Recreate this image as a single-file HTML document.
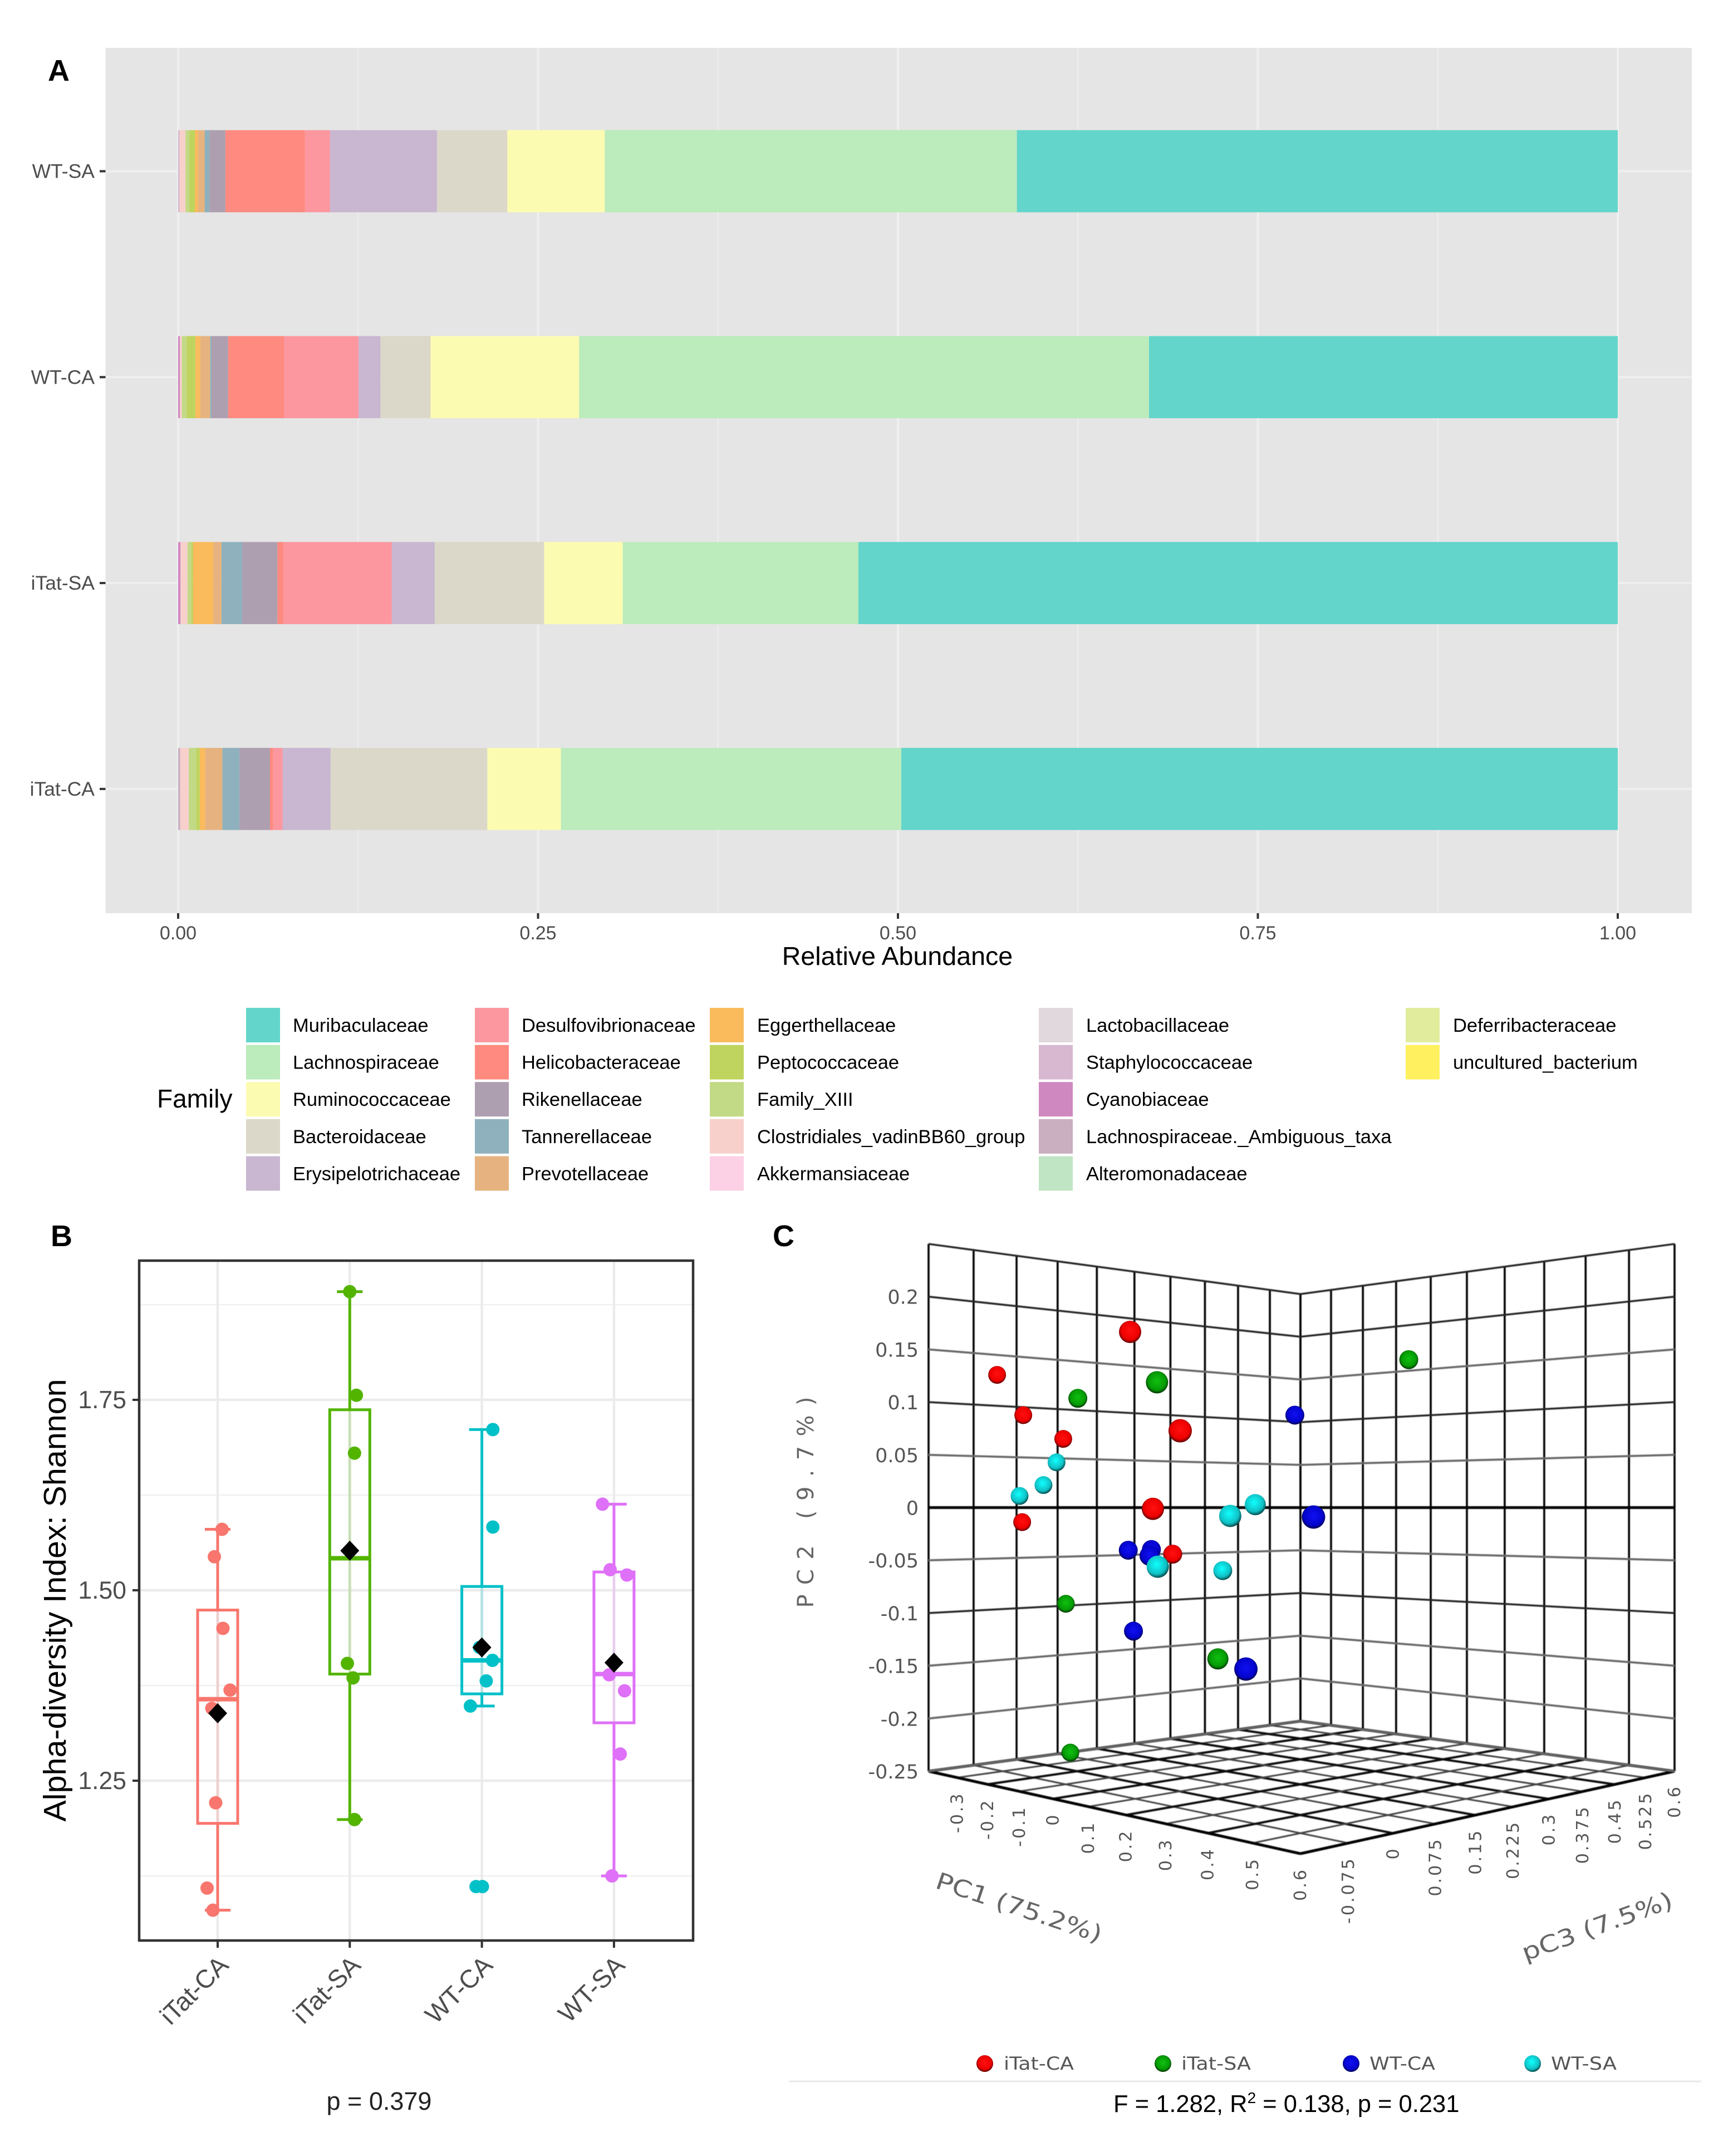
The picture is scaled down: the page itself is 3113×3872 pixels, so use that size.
<!DOCTYPE html>
<html>
<head>
<meta charset="utf-8">
<title>Microbiome family abundance, alpha diversity and PCoA</title>
<style>
html,body{margin:0;padding:0;background:#fff;width:3113px;height:3872px;overflow:hidden}
svg{display:block}
text{font-family:"Liberation Sans",sans-serif}
.dj{font-family:"DejaVu Sans",sans-serif}
</style>
</head>
<body>
<svg id="chart" xmlns="http://www.w3.org/2000/svg" width="3113" height="3872" viewBox="0 0 3113 3872">
<defs>
<radialGradient id="sph-red" cx="50%" cy="45%" r="55%"><stop offset="0" stop-color="#ff1010"/><stop offset=".72" stop-color="#ee0000"/><stop offset="1" stop-color="#5a0000"/></radialGradient>
<radialGradient id="sph-green" cx="50%" cy="45%" r="55%"><stop offset="0" stop-color="#10c010"/><stop offset=".72" stop-color="#059a05"/><stop offset="1" stop-color="#033403"/></radialGradient>
<radialGradient id="sph-blue" cx="50%" cy="45%" r="55%"><stop offset="0" stop-color="#1010f0"/><stop offset=".72" stop-color="#0404d0"/><stop offset="1" stop-color="#020250"/></radialGradient>
<radialGradient id="sph-cyan" cx="45%" cy="40%" r="60%"><stop offset="0" stop-color="#10ffff"/><stop offset=".72" stop-color="#10c0c4"/><stop offset="1" stop-color="#044a4c"/></radialGradient>
<filter id="soft" x="-2%" y="-2%" width="104%" height="104%"><feGaussianBlur stdDeviation="0.9"/></filter>
</defs>
<g id="panel-a"></g>
<g id="panel-b"></g>
<g id="panel-c"></g>
</svg>
<script>
// ---------- Panel A data ----------
const barCategories = ['WT-SA','WT-CA','iTat-SA','iTat-CA'];
const familyNames = ['Muribaculaceae','Lachnospiraceae','Ruminococcaceae','Bacteroidaceae','Erysipelotrichaceae','Desulfovibrionaceae','Helicobacteraceae','Rikenellaceae','Tannerellaceae','Prevotellaceae','Eggerthellaceae','Peptococcaceae','Family_XIII','Clostridiales_vadinBB60_group','Akkermansiaceae','Lactobacillaceae','Staphylococcaceae','Cyanobiaceae','Lachnospiraceae._Ambiguous_taxa','Alteromonadaceae','Deferribacteraceae','uncultured_bacterium'];
const familyColors = ['#63d5ca','#bcebbc','#fcfbb2','#dbd8c9','#c9b7d1','#fc979f','#ff8a80','#ae9fb0','#8fb1bd','#e6b380','#fabb5c','#bfd45e','#c2d985','#f7d0cc','#fcd1e5','#e0d8dc','#d7b8d0','#d089c0','#c9afc0','#c0e5c4','#e1ec9c','#fff060'];
const abundanceWTSA   = [.4174,.2863,.0677,.0488,.0743,.0174,.0553,.0111,.0033,.0046,.0022,.0038,.0027,.0041,0,0,.001,0,0,0,0,0];
const abundanceWTCA   = [.3256,.3959,.1032,.0348,.0152,.0518,.0388,.0115,.001,.0068,.0035,.006,.0033,.0014,0,0,0,.0012,0,0,0,0];
const abundanceITatSA = [.5275,.1637,.0546,.076,.0298,.0752,.0043,.0244,.0144,.0057,.0141,.0011,.0027,.0049,0,0,0,.0016,0,0,0,0];
const abundanceITatCA = [.4977,.2364,.0512,.1088,.0334,.0065,.0022,.0212,.0119,.0119,.0038,.0024,.0052,.006,0,0,0,0,.0014,0,0,0];
const abundanceXTicks = ['0.00','0.25','0.50','0.75','1.00'];

// ---------- Panel B data ----------
const boxGroups = ['iTat-CA','iTat-SA','WT-CA','WT-SA'];
const boxColors = ['#f8766d','#53b400','#00c0c8','#df70f8'];
const shannonTicks = ['1.25','1.50','1.75'];
const shannonMinorTicks = [1.125,1.375,1.625,1.875];
const boxQ1 = [1.194,1.390,1.364,1.326];
const boxMedian = [1.357,1.542,1.408,1.390];
const boxQ3 = [1.474,1.737,1.505,1.524];
const whiskerLow = [1.080,1.199,1.348,1.125];
const whiskerHigh = [1.580,1.892,1.711,1.613];
const boxMeans = [1.3385,1.552,1.425,1.405];
const samplesITatCA = [1.580,1.544,1.450,1.369,1.345,1.221,1.109,1.080];
const jitterITatCA  = [.033,-.025,.04,.094,-.044,-.015,-.08,-.036];
const samplesITatSA = [1.892,1.756,1.680,1.404,1.385,1.199];
const jitterITatSA  = [0,.05,.036,-.018,.025,.036];
const samplesWTCA   = [1.711,1.583,1.425,1.408,1.381,1.348,1.111,1.111];
const jitterWTCA    = [.083,.083,-.018,.08,.033,-.087,-.044,.004];
const samplesWTSA   = [1.613,1.527,1.520,1.389,1.368,1.285,1.125];
const jitterWTSA    = [-.087,-.029,.098,-.036,.08,.047,-.015];

// ---------- Panel C data (projected view coordinates: horizontal view position, PC2 at left wall scale, sphere size) ----------
const pc2TickLabels = ['0.2','0.15','0.1','0.05','0','-0.05','-0.1','-0.15','-0.2','-0.25'];
const pc1TickLabels = ['-0.3','-0.2','-0.1','0','0.1','0.2','0.3','0.4','0.5','0.6'];
const pc3TickLabels = ['-0.075','0','0.075','0.15','0.225','0.3','0.375','0.45','0.525','0.6'];
const blueViewX = [-.015,.035,-.461,-.399,-.404,-.447,-.146];
const blueViewY = [.088,-.0085,-.0399,-.0392,-.0451,-.1165,-.1524];
const blueSize  = [17,21,17,17,18,17,21];
const redViewX  = [-.456,-.812,-.742,-.635,-.322,-.395,-.745,-.342];
const redViewY  = [.1668,.1261,.088,.0655,.0732,-.0007,-.0133,-.0436];
const redSize   = [20,16,16,16,21,20,16,17];
const greenViewX = [-.384,-.596,.290,-.628,-.221,-.616];
const greenViewY = [.1191,.1039,.1405,-.0906,-.1428,-.2315];
const greenSize  = [20,17,17,16,19,16];
const cyanViewX = [-.653,-.688,-.752,-.121,-.188,-.382,-.208];
const cyanViewY = [.0433,.0218,.0115,.0033,-.0074,-.0555,-.0592];
const cyanSize  = [16,16,16,19,20,20,17];

const NS = 'http://www.w3.org/2000/svg';
function mk(tag, attrs, parent){
  const el = document.createElementNS(NS, tag);
  for (const k in attrs) el.setAttribute(k, attrs[k]);
  parent.appendChild(el);
  return el;
}

// ================= PANEL A =================
const pa = document.getElementById('panel-a');
const xA = v => 320 + v*2586;
const yA = i => 307.5 + i*369.8;
const barH = 147.5;
let e;
e = mk('rect',{x:189.5,y:86,width:2849.5,height:1554,fill:'#e5e5e5'},pa);


for (let k=0;k<9;k++){
  const v = k*0.125;
  e = mk('line',{x1:xA(v),x2:xA(v),y1:86,y2:1640,stroke:'#efefef','stroke-width':k%2?2:4},pa);
  
  
}
barCategories.forEach((c,i)=>{
  e = mk('line',{x1:189.5,x2:3039,y1:yA(i),y2:yA(i),stroke:'#efefef','stroke-width':4},pa);
  
  
});
[abundanceWTSA,abundanceWTCA,abundanceITatSA,abundanceITatCA].forEach((vals,i)=>{
  let pos = vals.reduce((s,v)=>s+v,0);
  vals.forEach((v,f)=>{
    if (v<=0) return;
    const start = pos - v;
    const r = mk('rect',{x:xA(start),y:yA(i)-barH/2,width:xA(pos)-xA(start),height:barH,fill:familyColors[f]},pa);
    
    
    pos = start;
  });
  const lab = mk('text',{x:170,y:yA(i)+12,'text-anchor':'end','font-size':35.5,fill:'#4d4d4d'},pa);
  lab.textContent = barCategories[i];
  
  
  const t = mk('line',{x1:179,x2:189.5,y1:yA(i),y2:yA(i),stroke:'#333','stroke-width':4},pa);
  
  
});
abundanceXTicks.forEach(t=>{
  const v = parseFloat(t);
  const m = mk('line',{x1:xA(v),x2:xA(v),y1:1640,y2:1650,stroke:'#333','stroke-width':4},pa);
  
  
  const l = mk('text',{x:xA(v),y:1687,'text-anchor':'middle','font-size':34,fill:'#4d4d4d'},pa);
  l.textContent = t;
  
  
});
e = mk('text',{x:1612,y:1733,'text-anchor':'middle','font-size':46.6,fill:'#000'},pa);
e.textContent = 'Relative Abundance';


e = mk('text',{x:86,y:145,'font-size':54,'font-weight':'bold',fill:'#000'},pa);
e.textContent = 'A';


e = mk('text',{x:282,y:1989,'font-size':46,fill:'#000'},pa);
e.textContent = 'Family';


const legendSwatchX = [442,853,1275,1866,2525];
const legendTextX = [526,937,1360,1951,2610];
familyNames.forEach((n,i)=>{
  const col = Math.floor(i/5), row = i%5;
  const y = 1810 + row*66.6;
  const s = mk('rect',{x:legendSwatchX[col],y:y,width:61,height:62,fill:familyColors[i]},pa);
  
  
  const t = mk('text',{x:legendTextX[col],y:y+43,'font-size':34.5,fill:'#000'},pa);
  t.textContent = n;
  
  
});

// ================= PANEL B =================
const pb = document.getElementById('panel-b');
const xB = i => 391 + i*237.3;
const yB = v => 2856 - (v-1.5)*1368;
const bLeft=250,bRight=1245,bTop=2264,bBottom=3485;
shannonMinorTicks.forEach(v=>{
  const l = mk('line',{x1:bLeft,x2:bRight,y1:yB(v),y2:yB(v),stroke:'#f0f0f0','stroke-width':2.5},pb);
  
  
});
shannonTicks.forEach(t=>{
  const v = parseFloat(t);
  const l = mk('line',{x1:bLeft,x2:bRight,y1:yB(v),y2:yB(v),stroke:'#ebebeb','stroke-width':4.5},pb);
  
  
  const m = mk('line',{x1:238,x2:bLeft,y1:yB(v),y2:yB(v),stroke:'#333','stroke-width':4},pb);
  
  
  const tx = mk('text',{x:227,y:yB(v)+15,'text-anchor':'end','font-size':44.5,fill:'#4d4d4d'},pb);
  tx.textContent = t;
  
  
});
const sampleSets = [samplesITatCA,samplesITatSA,samplesWTCA,samplesWTSA];
const jitterSets = [jitterITatCA,jitterITatSA,jitterWTCA,jitterWTSA];
boxGroups.forEach((g,i)=>{
  const x = xB(i), col = boxColors[i];
  let n;
  n = mk('line',{x1:x,x2:x,y1:bTop,y2:bBottom,stroke:'#ebebeb','stroke-width':4.5},pb);
  
  
  n = mk('line',{x1:x,x2:x,y1:yB(boxQ3[i]),y2:yB(boxQ1[i]),stroke:col,'stroke-width':5,opacity:.22},pb);
  
  
  n = mk('line',{x1:x,x2:x,y1:yB(whiskerHigh[i]),y2:yB(boxQ3[i]),stroke:col,'stroke-width':5},pb);
  
  
  n = mk('line',{x1:x,x2:x,y1:yB(boxQ1[i]),y2:yB(whiskerLow[i]),stroke:col,'stroke-width':5},pb);
  
  
  n = mk('line',{x1:x-23,x2:x+23,y1:yB(whiskerHigh[i]),y2:yB(whiskerHigh[i]),stroke:col,'stroke-width':5},pb);
  
  
  n = mk('line',{x1:x-23,x2:x+23,y1:yB(whiskerLow[i]),y2:yB(whiskerLow[i]),stroke:col,'stroke-width':5},pb);
  
  
  n = mk('rect',{x:x-36,y:yB(boxQ3[i]),width:72,height:yB(boxQ1[i])-yB(boxQ3[i]),fill:'none',stroke:col,'stroke-width':5},pb);
  
  
  n = mk('line',{x1:x-36,x2:x+36,y1:yB(boxMedian[i]),y2:yB(boxMedian[i]),stroke:col,'stroke-width':8},pb);
  
  
  sampleSets[i].forEach((v,k)=>{
    const c = mk('circle',{cx:x+jitterSets[i][k]*237.3,cy:yB(v),r:12,fill:col},pb);
    
    
  });
  const my = yB(boxMeans[i]);
  n = mk('polygon',{points:`${x-17},${my} ${x},${my-18} ${x+17},${my} ${x},${my+18}`,fill:'#000'},pb);
  
  
  n = mk('line',{x1:x,x2:x,y1:bBottom,y2:3498,stroke:'#333','stroke-width':4},pb);
  
  
  n = mk('text',{x:x+22,y:3532,'text-anchor':'end','font-size':46,fill:'#4d4d4d',transform:`rotate(-45 ${x+22} 3532)`},pb);
  n.textContent = g;
  
  
});
e = mk('rect',{x:bLeft,y:bTop,width:bRight-bLeft,height:bBottom-bTop,fill:'none',stroke:'#333','stroke-width':4.5},pb);


e = mk('text',{x:118,y:2874,'text-anchor':'middle','font-size':57,fill:'#000',textLength:795,lengthAdjust:'spacingAndGlyphs',transform:'rotate(-90 118 2874)'},pb);
e.textContent = 'Alpha-diversity Index: Shannon';


e = mk('text',{x:681,y:3789,'text-anchor':'middle','font-size':45,fill:'#222'},pb);
e.textContent = 'p = 0.379';


e = mk('text',{x:91,y:2238,'font-size':54,'font-weight':'bold',fill:'#000'},pb);
e.textContent = 'B';



// ================= PANEL C =================
const pc = document.getElementById('panel-c');
const pcGrid = mk('g',{filter:'url(#soft)'},pc);


// floor corners: left, front, right, back
const qx=[1668,2336,3008,2336], qy=[3181,3329,3181,3091];
const dx1=qx[1]-qx[2],dx2=qx[3]-qx[2],sx=qx[0]-qx[1]+qx[2]-qx[3];
const dy1=qy[1]-qy[2],dy2=qy[3]-qy[2],sy=qy[0]-qy[1]+qy[2]-qy[3];
const den=dx1*dy2-dx2*dy1;
const hg=(sx*dy2-dx2*sy)/den, hh=(dx1*sy-sx*dy1)/den;
const ha=qx[1]-qx[0]+hg*qx[1], hb=qx[3]-qx[0]+hh*qx[3], hc=qx[0];
const hd=qy[1]-qy[0]+hg*qy[1], he=qy[3]-qy[0]+hh*qy[3], hf=qy[0];
function floorPt(u,v){const w=hg*u+hh*v+1;return {x:(ha*u+hb*v+hc)/w,y:(hd*u+he*v+hf)/w};}
const uPc1 = p => (p+.4)/1.0;
const vPc3 = p => (p+.15)/.75;
const WALL_ZERO_Y = 2707.5;
function wallPt(u,v,pc2){const f=floorPt(u,v);return {x:f.x,y:WALL_ZERO_Y-pc2*(f.y-WALL_ZERO_Y)/.25};}
const GRID_N = 10;
for(let k=0;k<=GRID_N;k++){
  const t=k/GRID_N, dark=k%2===0;
  const a=floorPt(t,0),b=floorPt(t,1),c=floorPt(0,t),d=floorPt(1,t);
  let n=mk('line',{x1:a.x,y1:a.y,x2:b.x,y2:b.y,stroke:dark?'#111':'#444','stroke-width':dark?4:3},pcGrid);
  
  
  n=mk('line',{x1:c.x,y1:c.y,x2:d.x,y2:d.y,stroke:dark?'#111':'#444','stroke-width':dark?4:3},pcGrid);
  
  
  const l0=wallPt(0,t,-.25),l1=wallPt(0,t,.25),r0=wallPt(t,1,-.25),r1=wallPt(t,1,.25);
  n=mk('line',{x1:l0.x,y1:l0.y,x2:l1.x,y2:l1.y,stroke:'#000','stroke-width':3.6},pcGrid);
  
  
  n=mk('line',{x1:r0.x,y1:r0.y,x2:r1.x,y2:r1.y,stroke:'#000','stroke-width':3.6},pcGrid);
  
  
}
[[floorPt(0,0),floorPt(0,1)],[floorPt(0,1),floorPt(1,1)],[floorPt(0,0),floorPt(1,0)],[floorPt(1,0),floorPt(1,1)]].forEach(p=>{
  const n=mk('line',{x1:p[0].x,y1:p[0].y,x2:p[1].x,y2:p[1].y,stroke:'#000','stroke-width':5},pcGrid);
  
  
});
[.25].concat(pc2TickLabels.map(parseFloat)).forEach((v,k)=>{
  const a=wallPt(0,0,v),b=wallPt(0,1,v),c=wallPt(1,1,v);
  const isZero=v===0, dark=(k===0||k===1||k===3||k===7);
  const col=isZero?'#000':(dark?'#222':'#666');
  const w=isZero?5:(dark?3.4:3.6);
  const n=mk('polyline',{points:`${a.x},${a.y} ${b.x},${b.y} ${c.x},${c.y}`,fill:'none',stroke:col,'stroke-width':w},pcGrid);
  
  
});
pc2TickLabels.forEach(t=>{
  const p=wallPt(0,0,parseFloat(t));
  const n=mk('text',{class:'dj',x:1650,y:p.y+13,'text-anchor':'end','font-size':35,fill:'#555'},pc);
  n.textContent=t;
  
  
});
pc1TickLabels.forEach(t=>{
  const p=floorPt(uPc1(parseFloat(t)),0);
  const X=p.x+10,Y=p.y+25;
  const n=mk('text',{class:'dj',x:X,y:Y,'text-anchor':'end','font-size':30,'letter-spacing':4,fill:'#555',transform:`rotate(-90 ${X} ${Y})`},pc);
  n.textContent=t;
  
  
});
pc3TickLabels.forEach(t=>{
  const p=floorPt(1,vPc3(parseFloat(t)));
  const X=p.x+10,Y=p.y+24;
  const n=mk('text',{class:'dj',x:X,y:Y,'text-anchor':'end','font-size':30,'letter-spacing':4,fill:'#555',transform:`rotate(-90 ${X} ${Y})`},pc);
  n.textContent=t;
  
  
});
// spheres
const xC = v => 2336 + v*671;
const yC = v => 2708.4 - v*1897;
[[blueViewX,blueViewY,blueSize,'sph-blue'],
 [redViewX,redViewY,redSize,'sph-red'],
 [greenViewX,greenViewY,greenSize,'sph-green'],
 [cyanViewX,cyanViewY,cyanSize,'sph-cyan']].forEach(s=>{
  s[0].forEach((v,k)=>{
    const c=mk('circle',{cx:xC(v),cy:yC(s[1][k]),r:s[2][k],fill:`url(#${s[3]})`},pc);
    
    
  });
});
e = mk('text',{class:'dj',x:1461,y:2698,'text-anchor':'middle','font-size':40,fill:'#666',textLength:379,lengthAdjust:'spacing',transform:'rotate(-90 1461 2698)'},pc);
e.textContent = 'PC2 (9.7%)';


e = mk('text',{class:'dj',x:1678,y:3390,'font-size':42,fill:'#666',textLength:312,lengthAdjust:'spacingAndGlyphs',transform:'rotate(18.5 1678 3390)'},pc);
e.textContent = 'PC1 (75.2%)';


e = mk('text',{class:'dj',x:2740,y:3522,'font-size':42,fill:'#666',textLength:285,lengthAdjust:'spacingAndGlyphs',transform:'rotate(-20 2740 3522)'},pc);
e.textContent = 'pC3 (7.5%)';


// legend
const cLegendCircleX=[1769,2089,2427,2753];
const cLegendTextX=[1803,2122,2460,2786];
const cLegendTextW=[126,125,118,118];
const cLegendFill=['sph-red','sph-green','sph-blue','sph-cyan'];
boxGroups.forEach((g,i)=>{
  let n=mk('circle',{cx:cLegendCircleX[i],cy:3706,r:15,fill:`url(#${cLegendFill[i]})`},pc);
  
  
  n=mk('text',{class:'dj',x:cLegendTextX[i],y:3717,'font-size':32,fill:'#555',textLength:cLegendTextW[i],lengthAdjust:'spacingAndGlyphs'},pc);
  n.textContent=g;
  
  
});
e = mk('line',{x1:1417,x2:3056,y1:3738,y2:3738,stroke:'#e8e8e8','stroke-width':3},pc);


e = mk('text',{x:2000,y:3793,'font-size':43.5,fill:'#000'},pc);


const t1=mk('tspan',{},e); t1.textContent='F = 1.282, R';
const t2=mk('tspan',{dy:-16,'font-size':28},e); t2.textContent='2';
const t3=mk('tspan',{dy:16},e); t3.textContent=' = 0.138, p = 0.231';
e = mk('text',{x:1388,y:2238,'font-size':54,'font-weight':'bold',fill:'#000'},pc);
e.textContent = 'C';


</script>
</body>
</html>
